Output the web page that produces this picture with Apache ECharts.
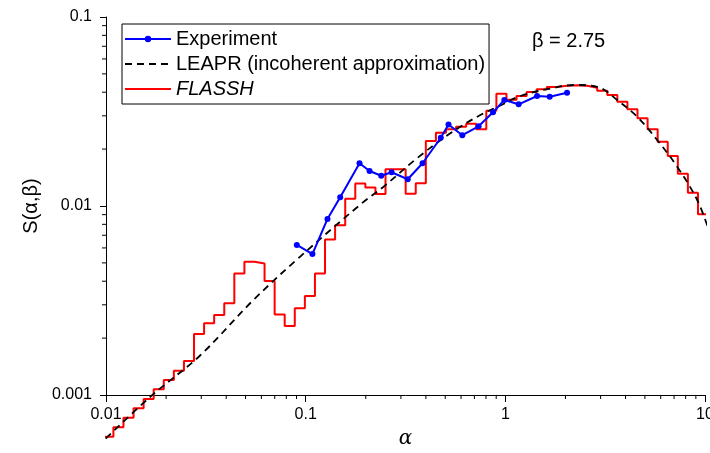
<!DOCTYPE html>
<html>
<head>
<meta charset="utf-8">
<script src="https://cdn.jsdelivr.net/npm/echarts@6/dist/echarts.min.js"></script>
<style>
html,body{margin:0;padding:0;background:#fff;}
#c{width:710px;height:453px;}
</style>
</head>
<body>
<div id="c"></div>
<script>
// ---- data ----
const expAlpha = [0.0903, 0.1081, 0.1286, 0.1489, 0.1861, 0.2089, 0.2390, 0.2692, 0.3245, 0.3850, 0.4750, 0.5192, 0.6088, 0.7346, 0.8675, 0.9886, 1.166, 1.442, 1.668, 2.038];
const expS = [0.00622, 0.00557, 0.00854, 0.01112, 0.01682, 0.01532, 0.01446, 0.01508, 0.01385, 0.01684, 0.02296, 0.02700, 0.02369, 0.02641, 0.03131, 0.03637, 0.03451, 0.03820, 0.03787, 0.03976];

const leaprAlpha = [0.00904, 0.01662, 0.02959, 0.05454, 0.0939, 0.1913, 0.2455, 0.3609, 0.5301, 0.7495, 0.944, 1.189, 1.681, 2.243, 2.994, 3.630, 4.573, 5.760, 7.256, 9.140, 10.45];
const leaprS = [0.000533, 0.000976, 0.001618, 0.00317, 0.00540, 0.01034, 0.01265, 0.01788, 0.02425, 0.03031, 0.0340, 0.03820, 0.04184, 0.04368, 0.04210, 0.03637, 0.02969, 0.02235, 0.01614, 0.01076, 0.00746];

const flasshEdges = [0.00904, 0.00969, 0.01089, 0.01223, 0.01374, 0.01543, 0.01733, 0.01947, 0.02187, 0.02457, 0.02759, 0.03099, 0.03481, 0.03911, 0.04392, 0.04934, 0.05542, 0.06225, 0.06992, 0.07853, 0.08821, 0.09910, 0.1113, 0.1250, 0.1404, 0.1578, 0.1772, 0.1991, 0.2236, 0.2511, 0.2821, 0.3168, 0.3559, 0.3998, 0.4490, 0.5044, 0.5665, 0.6364, 0.7148, 0.8029, 0.9020, 1.013, 1.138, 1.279, 1.436, 1.613, 1.812, 2.035, 2.286, 2.568, 2.884, 3.240, 3.639, 4.088, 4.591, 5.158, 5.793, 6.508, 7.310, 8.210, 9.223, 10.36, 11.64];
const flasshS = [0.000533, 0.000602, 0.000675, 0.000758, 0.000850, 0.000952, 0.001072, 0.00120, 0.001345, 0.001513, 0.00210, 0.002395, 0.00265, 0.00306, 0.00440, 0.00507, 0.00497, 0.00401, 0.00267, 0.00232, 0.002875, 0.00334, 0.00440, 0.00665, 0.00790, 0.01093, 0.01315, 0.01253, 0.01158, 0.01564, 0.01564, 0.01162, 0.01318, 0.02208, 0.02442, 0.02545, 0.02628, 0.02726, 0.02545, 0.03189, 0.03924, 0.03651, 0.03820, 0.04010, 0.04144, 0.04262, 0.04330, 0.04351, 0.04330, 0.04226, 0.04074, 0.03867, 0.03563, 0.03248, 0.02911, 0.02545, 0.02189, 0.01839, 0.01482, 0.01174, 0.00905, 0.00675];

const xMinorTicks = [0.02,0.03,0.04,0.05,0.06,0.07,0.08,0.09,0.2,0.3,0.4,0.5,0.6,0.7,0.8,0.9,2,3,4,5,6,7,8,9];
const yMinorTicks = [0.002,0.003,0.004,0.005,0.006,0.007,0.008,0.009,0.02,0.03,0.04,0.05,0.06,0.07,0.08,0.09];

const seriesNames = ['Experiment', 'LEAPR (incoherent approximation)', 'FLASSH'];
const betaLabel = 'β = 2.75';

// ---- build ----
const FONT = 'Liberation Sans, Arial, sans-serif';
const X_MIN = 0.01, X_MAX = 10, Y_MIN = 0.001, Y_MAX = 0.1;

const expData = expAlpha.map((a, i) => [a, expS[i]]);
const leaprData = leaprAlpha.map((a, i) => [a, leaprS[i]]);
const flasshData = flasshEdges.map((a, i) => [a, flasshS[Math.min(i, flasshS.length - 1)]]);
const minorData = xMinorTicks.map(v => [v, Y_MIN, 0]).concat(yMinorTicks.map(v => [X_MIN, v, 1]));

const chart = echarts.init(document.getElementById('c'), null, {renderer: 'canvas'});
chart.setOption({
  animation: false,
  backgroundColor: '#fff',
  grid: {left: 106, right: 5, top: 17, bottom: 58, containLabel: false, outerBoundsMode: 'none'},
  xAxis: {
    type: 'log', logBase: 10, min: X_MIN, max: X_MAX,
    name: 'α', nameLocation: 'middle', nameGap: 34,
    nameTextStyle: {fontFamily: 'DejaVu Serif, serif', fontStyle: 'italic', fontSize: 20, color: '#000'},
    axisLine: {show: true, onZero: false, lineStyle: {color: '#000', width: 1}},
    axisTick: {show: true, inside: false, length: 7, lineStyle: {color: '#000', width: 1}},
    axisLabel: {fontFamily: FONT, fontSize: 16, color: '#000', margin: 12},
    splitLine: {show: false},
    minorTick: {show: false}
  },
  yAxis: {
    type: 'log', logBase: 10, min: Y_MIN, max: Y_MAX,
    name: 'S(α,β)', nameLocation: 'middle', nameGap: 58, nameRotate: 90,
    nameTextStyle: {fontFamily: FONT, fontSize: 20, color: '#000'},
    axisLine: {show: true, onZero: false, lineStyle: {color: '#000', width: 1}},
    axisTick: {show: true, inside: false, length: 6, lineStyle: {color: '#000', width: 1}},
    axisLabel: {fontFamily: FONT, fontSize: 16, color: '#000', margin: 14},
    splitLine: {show: false},
    minorTick: {show: false}
  },
  legend: {
    data: [
      {name: seriesNames[0]},
      {name: seriesNames[1], itemStyle: {opacity: 0}},
      {name: seriesNames[2], itemStyle: {opacity: 0}}
    ],
    orient: 'vertical',
    left: 122, top: 24,
    padding: [5, 4, 5, 2],
    itemGap: 5,
    itemWidth: 46, itemHeight: 8,
    borderColor: '#000', borderWidth: 1, borderRadius: 0,
    backgroundColor: '#fff',
    selectedMode: false,
    textStyle: {fontFamily: FONT, fontSize: 20, color: '#000', lineHeight: 20,
      rich: {it: {fontFamily: FONT, fontSize: 20, fontStyle: 'italic', color: '#000', lineHeight: 20}}},
    formatter: function (n) { return n === 'FLASSH' ? '{it|FLASSH}' : n; }
  },
  graphic: [{
    type: 'text', left: 532, top: 31,
    style: {text: betaLabel, fontFamily: FONT, fontSize: 20, fill: '#000'}
  }],
  series: [
    {
      name: 'FLASSH', type: 'line', step: 'end', data: flasshData,
      showSymbol: false, symbol: 'none', clip: false, z: 2,
      lineStyle: {color: '#ff0000', width: 2},
      itemStyle: {color: '#ff0000'}
    },
    {
      name: 'LEAPR (incoherent approximation)', type: 'line', data: leaprData,
      smooth: 0.35, showSymbol: false, symbol: 'none', clip: false, z: 3,
      lineStyle: {color: '#000', width: 1.8, type: [7, 5]},
      itemStyle: {color: '#000'}
    },
    {
      name: 'Experiment', type: 'line', data: expData,
      symbol: 'circle', symbolSize: 6, showSymbol: true, clip: false, z: 4,
      lineStyle: {color: '#0000ff', width: 2},
      itemStyle: {color: '#0000ff'}
    },
    {
      name: 'minorTicks', type: 'custom', data: minorData, clip: false, silent: true, z: 5,
      encode: {x: 0, y: 1},
      renderItem: function (params, api) {
        const p = api.coord([api.value(0), api.value(1)]);
        const isY = api.value(2) === 1;
        return {
          type: 'line',
          shape: isY ? {x1: p[0] - 4, y1: p[1], x2: p[0], y2: p[1]} : {x1: p[0], y1: p[1], x2: p[0], y2: p[1] + 4},
          style: {stroke: '#000', lineWidth: 1}
        };
      }
    }
  ]
});
</script>
</body>
</html>
